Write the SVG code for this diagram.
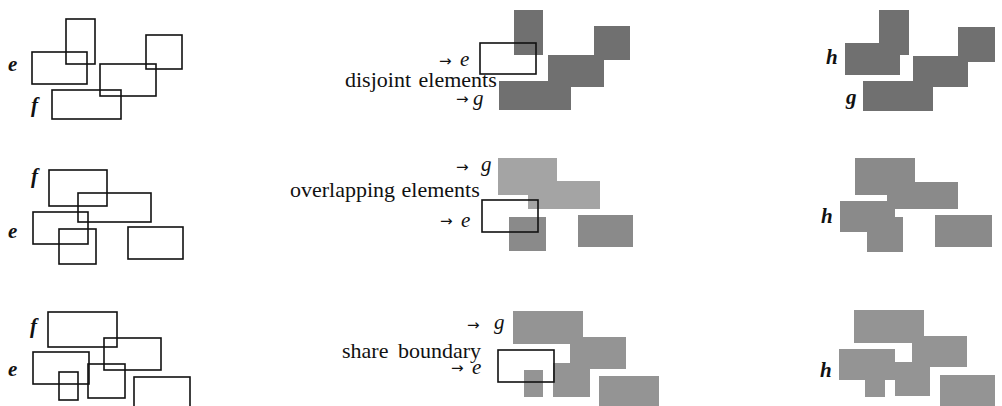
<svg xmlns="http://www.w3.org/2000/svg" width="1002" height="406" viewBox="0 0 1002 406">
<style>
.o{fill:none;stroke:#111;stroke-width:1.6}
.d{fill:#707070}
.m{fill:#8a8a8a}
.l{fill:#a4a4a4}
.n{fill:#949494}
.t{font-family:"Liberation Serif",serif;font-size:22px;fill:#111}
.lb{font-family:"Liberation Serif",serif;font-size:21px;font-style:italic;font-weight:bold;fill:#111}
.it{font-family:"Liberation Serif",serif;font-size:21px;font-style:italic;fill:#111}
.ar{font-family:"DejaVu Sans",sans-serif;font-size:15px;fill:#111}
</style>
<rect width="1002" height="406" fill="#fff"/>
<!-- Row 1 -->
<g id="r1-left">
<rect class="o" x="66" y="19" width="29" height="45"/>
<rect class="o" x="32" y="52" width="55" height="32"/>
<rect class="o" x="146" y="35" width="36" height="34"/>
<rect class="o" x="100" y="64" width="56" height="32"/>
<rect class="o" x="52" y="90" width="69" height="29"/>
<text class="lb" x="8" y="71">e</text>
<text class="lb" x="31" y="112">f</text>
</g>
<g id="r1-mid">
<rect class="d" x="514" y="10" width="29" height="45"/>
<rect class="d" x="594" y="26" width="36" height="34"/>
<rect class="d" x="548" y="55" width="56" height="32"/>
<rect class="d" x="499" y="81" width="72" height="29"/>
<rect class="o" x="480" y="43" width="56" height="31"/>
<text class="ar" x="439" y="66">→</text><text class="it" x="460" y="66">e</text>
<text class="t" x="345" y="87" word-spacing="2">disjoint elements</text>
<text class="ar" x="456" y="104">→</text><text class="it" x="473" y="105">g</text>
</g>
<g id="r1-right">
<rect class="d" x="879" y="10" width="30" height="45"/>
<rect class="d" x="845" y="43" width="55" height="32"/>
<rect class="d" x="958" y="27" width="37" height="35"/>
<rect class="d" x="913" y="56" width="55" height="31"/>
<rect class="d" x="863" y="81" width="70" height="30"/>
<text class="lb" x="826" y="64">h</text>
<text class="lb" x="846" y="104">g</text>
</g>
<!-- Row 2 -->
<g id="r2-left">
<rect class="o" x="49" y="170" width="58" height="36"/>
<rect class="o" x="78" y="193" width="73" height="29"/>
<rect class="o" x="33" y="212" width="55" height="32"/>
<rect class="o" x="59" y="229" width="37" height="35"/>
<rect class="o" x="128" y="227" width="55" height="32"/>
<text class="lb" x="31" y="183">f</text>
<text class="lb" x="8" y="238">e</text>
</g>
<g id="r2-mid">
<rect class="l" x="498" y="158" width="59" height="37"/>
<rect class="l" x="528" y="181" width="72" height="28"/>
<rect class="m" x="509" y="217" width="37" height="34"/>
<rect class="m" x="578" y="215" width="55" height="32"/>
<rect class="o" x="482" y="200" width="56" height="32"/>
<text class="ar" x="456" y="172">→</text><text class="it" x="481" y="171">g</text>
<text class="t" x="290" y="197" word-spacing="1">overlapping elements</text>
<text class="ar" x="440" y="226">→</text><text class="it" x="461" y="227">e</text>
</g>
<g id="r2-right">
<rect class="m" x="855" y="158" width="60" height="37"/>
<rect class="m" x="887" y="182" width="71" height="27"/>
<rect class="m" x="840" y="201" width="55" height="31"/>
<rect class="m" x="867" y="217" width="36" height="35"/>
<rect class="m" x="935" y="215" width="57" height="32"/>
<text class="lb" x="821" y="223">h</text>
</g>
<!-- Row 3 -->
<g id="r3-left">
<rect class="o" x="48" y="312" width="69" height="35"/>
<rect class="o" x="104" y="338" width="57" height="32"/>
<rect class="o" x="33" y="352" width="56" height="32"/>
<rect class="o" x="59" y="372" width="19" height="28"/>
<rect class="o" x="88" y="364" width="37" height="34"/>
<rect class="o" x="134" y="377" width="56" height="40"/>
<text class="lb" x="30" y="333">f</text>
<text class="lb" x="8" y="376">e</text>
</g>
<g id="r3-mid">
<rect class="n" x="513" y="311" width="70" height="33"/>
<rect class="n" x="570" y="337" width="56" height="32"/>
<rect class="n" x="524" y="370" width="19" height="27"/>
<rect class="n" x="553" y="363" width="37" height="34"/>
<rect class="n" x="599" y="376" width="60" height="40"/>
<rect class="o" x="498" y="350" width="56" height="32"/>
<text class="ar" x="467" y="330">→</text><text class="it" x="494" y="329">g</text>
<text class="t" x="342" y="358" word-spacing="4">share boundary</text>
<text class="ar" x="451" y="373">→</text><text class="it" x="472" y="374">e</text>
</g>
<g id="r3-right">
<rect class="n" x="854" y="310" width="70" height="33"/>
<rect class="n" x="912" y="336" width="55" height="31"/>
<rect class="n" x="839" y="349" width="56" height="31"/>
<rect class="n" x="865" y="370" width="20" height="27"/>
<rect class="n" x="895" y="362" width="35" height="34"/>
<rect class="n" x="940" y="375" width="55" height="40"/>
<text class="lb" x="820" y="377">h</text>
</g>
</svg>
